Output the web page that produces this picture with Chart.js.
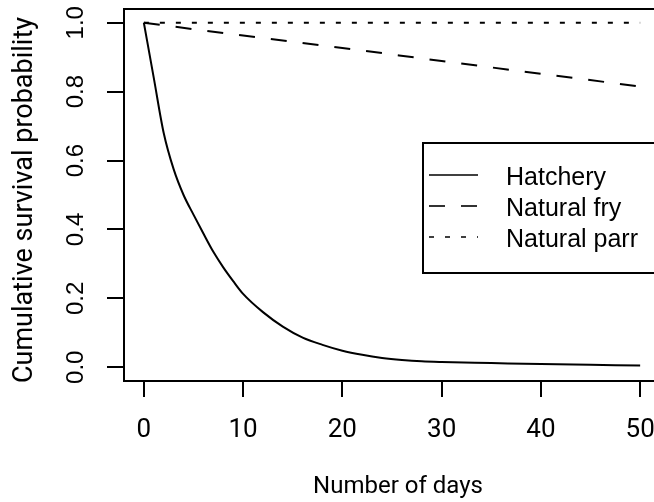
<!DOCTYPE html>
<html>
<head>
<meta charset="utf-8">
<script src="https://cdn.jsdelivr.net/npm/chart.js@4"></script>
<style>
  html, body { margin: 0; padding: 0; overflow: hidden; background: #fff; }
  canvas { display: block; }
</style>
</head>
<body>
<canvas id="grafica" width="660" height="502"></canvas>
<script>
// valores
const diasHatchery = [0, 1, 2, 3, 4, 5, 6, 7, 8, 9, 10, 12, 14, 16, 18, 20, 22, 24, 26, 28, 30, 35, 40, 45, 50];
const hatchery = [1.0, 0.84, 0.68, 0.575, 0.5, 0.443, 0.388, 0.335, 0.29, 0.25, 0.213, 0.16, 0.118, 0.086, 0.065, 0.048, 0.036, 0.027, 0.021, 0.017, 0.015, 0.012, 0.009, 0.007, 0.005];
const diasFry = [0, 10, 20, 30, 40, 50];
const naturalFry = [1.0, 0.963, 0.927, 0.889, 0.852, 0.815];
const diasParr = [0, 50];
const naturalParr = [1.0, 1.0];

const ticksX = [0, 10, 20, 30, 40, 50];
const ticksY = [0, 0.2, 0.4, 0.6, 0.8, 1.0];
const etiquetasY = ['0.0', '0.2', '0.4', '0.6', '0.8', '1.0'];
const nombres = ['Hatchery', 'Natural fry', 'Natural parr'];

const puntos = (xs, ys) => xs.map((x, i) => ({ x: x, y: ys[i] }));

// caja, etiquetas, titulos y leyenda al estilo de R
const marco = {
  id: 'marco',
  afterDraw(chart) {
    const { ctx, chartArea: a, scales: { y } } = chart;
    ctx.save();
    ctx.strokeStyle = '#000';
    ctx.lineWidth = 2;
    ctx.strokeRect(a.left, a.top, a.right - a.left + 20, a.bottom - a.top);

    ctx.fillStyle = '#000';
    ctx.textAlign = 'center';
    ctx.textBaseline = 'alphabetic';
    ctx.font = '24px Arial, "Liberation Sans", sans-serif';
    ticksY.forEach((v, i) => {
      ctx.save();
      ctx.translate(a.left - 41, y.getPixelForValue(v));
      ctx.rotate(-Math.PI / 2);
      ctx.fillText(etiquetasY[i], 0, 0);
      ctx.restore();
    });

    ctx.font = '27px Roboto, sans-serif';
    ctx.save();
    ctx.translate(32, (a.top + a.bottom) / 2 + 5);
    ctx.rotate(-Math.PI / 2);
    ctx.fillText('Cumulative survival probability', 0, 0);
    ctx.restore();

    ctx.font = '24px Roboto, sans-serif';
    ctx.fillText('Number of days', (a.left + a.right) / 2 + 6, a.bottom + 112);

    // leyenda
    const lx = a.left + 299, ly = a.top + 134;
    ctx.lineWidth = 2;
    ctx.strokeRect(lx, ly, 400, 130);
    ctx.textAlign = 'left';
    ctx.font = '25px "Liberation Sans", Arial, sans-serif';
    chart.data.datasets.forEach((ds, i) => {
      const yy = ly + 32 + 31 * i;
      ctx.lineWidth = 1.6;
      ctx.setLineDash(ds.borderDash || []);
      ctx.beginPath();
      ctx.moveTo(lx + 6, yy);
      ctx.lineTo(lx + 55, yy);
      ctx.stroke();
      ctx.setLineDash([]);
      ctx.fillText(ds.label, lx + 83, yy + 10);
    });
    ctx.restore();
  }
};

const ctx = document.getElementById('grafica').getContext('2d');
new Chart(ctx, {
  type: 'line',
  data: {
    datasets: [
      {
        label: nombres[0],
        data: puntos(diasHatchery, hatchery),
        borderColor: '#000',
        borderWidth: 2,
        pointRadius: 0,
        cubicInterpolationMode: 'monotone',
        fill: false
      },
      {
        label: nombres[1],
        data: puntos(diasFry, naturalFry),
        borderColor: '#000',
        borderWidth: 2,
        borderDash: [16, 16],
        pointRadius: 0,
        cubicInterpolationMode: 'monotone',
        fill: false
      },
      {
        label: nombres[2],
        data: puntos(diasParr, naturalParr),
        borderColor: '#000',
        borderWidth: 2,
        borderDash: [5, 11],
        pointRadius: 0,
        fill: false
      }
    ]
  },
  options: {
    responsive: false,
    animation: false,
    layout: { autoPadding: false, padding: { top: 9, left: 0, right: 0, bottom: 0 } },
    plugins: {
      legend: { display: false },
      tooltip: { enabled: false }
    },
    scales: {
      x: {
        type: 'linear',
        min: -2,
        max: 52,
        afterBuildTicks: s => { s.ticks = ticksX.map(v => ({ value: v })); },
        afterFit: s => { s.height = 121; s.paddingLeft = 0; s.paddingRight = 0; },
        border: { display: false },
        grid: { drawOnChartArea: false, drawTicks: true, tickLength: 16, color: '#000', lineWidth: 2 },
        ticks: {
          color: '#000',
          padding: 18,
          maxRotation: 0,
          font: { family: 'Roboto', size: 26 }
        }
      },
      y: {
        min: -0.04,
        max: 1.04,
        afterBuildTicks: s => { s.ticks = ticksY.map(v => ({ value: v })); },
        afterFit: s => { s.width = 124; s.paddingTop = 0; s.paddingBottom = 0; },
        border: { display: false },
        grid: { drawOnChartArea: false, drawTicks: true, tickLength: 17, color: '#000', lineWidth: 2 },
        ticks: { display: false }
      }
    }
  },
  plugins: [marco]
});
</script>
</body>
</html>
